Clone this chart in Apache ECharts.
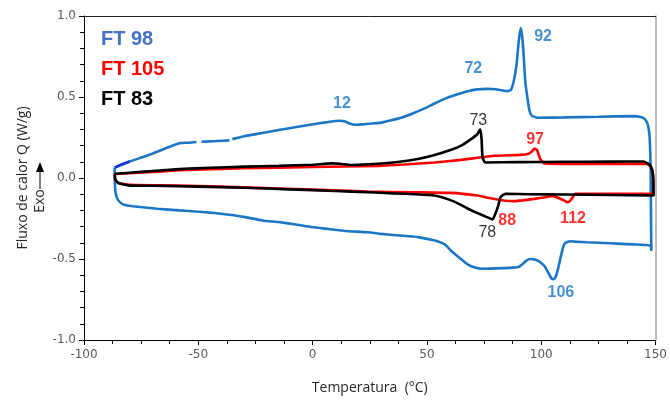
<!DOCTYPE html>
<html>
<head>
<meta charset="utf-8">
<script src="https://cdn.jsdelivr.net/npm/echarts@6/dist/echarts.min.js"></script>
<style>html,body{margin:0;padding:0;background:#fff}#c{width:670px;height:400px}</style>
</head>
<body>
<div id="c"></div>
<script>
// ---- Data (temperature °C, heat flow W/g) ----
// FT 98 loop (heating upper branch, then cooling lower branch); null = gap in trace
const ft98T = [-86.5,-84,-80,-72,-64,-58.3,-54,-50.8,null,-48.6,-42,-36.4,null,-35.1,-30,-22,-14.8,-7,-0.4,5,9.9,12,14.2,16.5,18.6,22,26,30,34,38.8,44,49,53.3,58,63,67.8,72,76.5,80,83,85.2,86.8,88,89.2,90.2,91,91.6,92.2,93,93.9,94.8,95.8,98.3,110,125,140.3,143.5,145.4,146.6,147.3,147.7,147.9,148.0,148.1,148.2,147.8,140,130,120,115,113,111.3,110,108.8,107.7,106.6,105.5,104.5,103.3,101.5,99.6,97.5,95.2,93.5,91.5,90,86,80,74,71,68,64.9,61,57.8,53,46,38,30,24,14.2,7,-0.3,-8,-15,-22,-30,-36.5,-43.8,-50,-58.3,-68,-78.6,-82.5,-84.3,-85.5,-86.2,-86.5,-86.6];
const ft98Q = [0.065,0.08,0.102,0.14,0.185,0.215,0.218,0.222,null,0.224,0.228,0.232,null,0.24,0.258,0.278,0.296,0.315,0.33,0.342,0.352,0.353,0.348,0.335,0.329,0.331,0.336,0.342,0.355,0.372,0.4,0.43,0.46,0.49,0.515,0.536,0.547,0.55,0.548,0.54,0.536,0.545,0.6,0.7,0.85,0.925,0.88,0.78,0.6,0.5,0.42,0.385,0.372,0.374,0.378,0.382,0.376,0.362,0.33,0.27,0.15,0.0,-0.2,-0.38,-0.45,-0.418,-0.41,-0.403,-0.397,-0.393,-0.39,-0.395,-0.41,-0.47,-0.54,-0.6,-0.625,-0.62,-0.59,-0.545,-0.52,-0.505,-0.5,-0.51,-0.535,-0.55,-0.555,-0.558,-0.56,-0.553,-0.535,-0.5,-0.455,-0.41,-0.385,-0.365,-0.355,-0.345,-0.335,-0.327,-0.315,-0.303,-0.285,-0.272,-0.262,-0.24,-0.227,-0.215,-0.208,-0.2,-0.19,-0.174,-0.165,-0.149,-0.125,-0.09,-0.03,0.065];
// darker start segment of FT 98
const ft98StartT = [-86.5,-84,-80];
const ft98StartQ = [0.065,0.08,0.102];

// FT 105 loop
const ft105T = [-86.5,-70,-58,-30,0,28.7,40,53.3,65,79.6,90.7,94.5,96,97,98.2,99.5,101.3,120,140,146.2,148,148.8,149.0,149.0,147.5,130,114.9,113.5,112.3,111.3,110,109.1,107,104.8,101,96.8,92,88.1,84,80.9,76,72.2,60.6,45,24.3,0,-30,-60,-80,-85,-86.3,-86.5];
const ft105Q = [0.025,0.037,0.048,0.06,0.068,0.075,0.083,0.096,0.112,0.137,0.143,0.15,0.165,0.182,0.172,0.12,0.09,0.087,0.087,0.086,0.07,0.03,-0.05,-0.098,-0.098,-0.098,-0.098,-0.125,-0.145,-0.149,-0.14,-0.133,-0.12,-0.112,-0.12,-0.129,-0.138,-0.143,-0.14,-0.133,-0.12,-0.108,-0.092,-0.088,-0.084,-0.072,-0.058,-0.046,-0.042,-0.03,-0.01,0.025];

// FT 83 loop
const ft83T = [-86.6,-86.3,-80,-70,-58.3,-45,-30,-14.8,0,8.4,12,17,22,28.7,38,46,53,60.6,65,69.3,72,73.3,73.9,74.3,75.4,90,110,130,144.6,147.2,148.5,149,149.1,149.1,147.5,130,110,95,84.5,82.8,82,81.2,80.1,78.7,76,72.2,68,64.9,60,53.3,45,35,24.3,10,-10,-30,-50,-70,-80,-85,-86.3,-86.6];
const ft83Q = [0.02,0.025,0.032,0.043,0.055,0.063,0.07,0.075,0.082,0.09,0.088,0.08,0.083,0.088,0.1,0.117,0.14,0.174,0.2,0.24,0.27,0.3,0.24,0.13,0.096,0.098,0.1,0.101,0.102,0.085,0.05,0.0,-0.06,-0.108,-0.108,-0.105,-0.102,-0.1,-0.098,-0.11,-0.125,-0.17,-0.215,-0.256,-0.24,-0.217,-0.19,-0.166,-0.135,-0.108,-0.1,-0.095,-0.088,-0.08,-0.07,-0.06,-0.053,-0.048,-0.047,-0.031,-0.01,0.02];

// Peak annotations (label anchor in data coords)
const peakText = ['12','72','92','106','73','78','97','88','112'];
const peakT    = [12.8,70.3,100.8,108.6,72.5,76.4,97.3,85.1,113.9];
const peakQ    = [0.46,0.675,0.871,-0.706,0.356,-0.337,0.239,-0.264,-0.252];
const peakSeries = ['FT 98','FT 98','FT 98','FT 98','FT 83','FT 83','FT 105','FT 105','FT 105'];

const seriesNames = ['FT 98','FT 105','FT 83'];
const xTicks = [-100,-50,0,50,100,150];
const yTicks = [-1.0,-0.5,0.0,0.5,1.0];

// ---- Chart ----
const colors = {'FT 98':'#1C76C6','FT 105':'#FF0000','FT 83':'#000000'};
const labelColors = {'FT 98':'#1C76C6','FT 105':'#FF0000','FT 83':'#000000'};
const legendColors = {'FT 98':'#4472C4','FT 105':'#FF0000','FT 83':'#000000'};

function pairs(T,Q){return T.map((t,i)=> (t===null||Q[i]===null) ? ['-','-'] : [t,Q[i]]);}

const lineSeries = [
  {name:'FT 98', T:ft98T, Q:ft98Q},
  {name:'FT 105', T:ft105T, Q:ft105Q},
  {name:'FT 83', T:ft83T, Q:ft83Q}
].map(s=>({
  name:s.name, type:'line', data:pairs(s.T,s.Q), showSymbol:false, symbol:'none',
  smooth:0.15, connectNulls:false,
  lineStyle:{color:colors[s.name], width:2.6}, itemStyle:{color:colors[s.name]},
  z:2, animation:false
}));
lineSeries.push({name:'FT 98 start', type:'line', data:pairs(ft98StartT,ft98StartQ), showSymbol:false, symbol:'none',
  lineStyle:{color:'#1436E6', width:2.6}, z:3, animation:false});

const labelSeries = seriesNames.map(n=>({
  name:n+' labels', type:'scatter', symbolSize:0, z:5, animation:false,
  data: peakText.map((t,i)=>({value:[peakT[i],peakQ[i]], name:t, sn:peakSeries[i]})).filter(d=>d.sn===n),
  label:{show:true, position:'inside', formatter:p=>p.name, color:labelColors[n],
    fontFamily:'Liberation Sans, Arial, sans-serif', fontSize:16,
    fontWeight: n==='FT 83' ? 'normal' : 'bold'}
}));

const legendTop = [40,70,100];
const chart = echarts.init(document.getElementById('c'), null, {renderer:'canvas'});
chart.setOption({
  animation:false,
  grid:{left:84, right:12, top:16, bottom:58, containLabel:false},
  xAxis:[{
    type:'value', min:-100, max:150, interval:50, position:'bottom',
    axisLine:{show:true, onZero:false, lineStyle:{color:'#000', width:1}},
    axisTick:{show:true, inside:false, length:5, lineStyle:{color:'#000'}},
    minorTick:{show:true, splitNumber:4, length:4, lineStyle:{color:'#000'}},
    splitLine:{show:false},
    axisLabel:{color:'#595959', fontFamily:'DejaVu Sans', fontSize:12, margin:9,
      formatter:v=> xTicks.includes(v) ? String(v) : ''},
    name:'Temperatura  (°C)', nameLocation:'middle', nameGap:41,
    nameTextStyle:{color:'#262626', fontFamily:'Open Sans', fontSize:14}
  },{
    type:'value', min:-100, max:150, position:'top',
    axisLine:{show:true, onZero:false, lineStyle:{color:'#222', width:1}},
    axisTick:{show:false}, axisLabel:{show:false}, splitLine:{show:false}
  }],
  yAxis:[{
    type:'value', min:-1, max:1, interval:0.5, position:'left',
    axisLine:{show:true, onZero:false, lineStyle:{color:'#000', width:1}},
    axisTick:{show:true, inside:false, length:5, lineStyle:{color:'#000'}},
    minorTick:{show:true, splitNumber:5, length:4, lineStyle:{color:'#000'}},
    splitLine:{show:false},
    axisLabel:{color:'#595959', fontFamily:'DejaVu Sans', fontSize:12, margin:8,
      formatter:v=> yTicks.some(t=>Math.abs(t-v)<1e-9) ? v.toFixed(1) : ''},
    name:'Fluxo de calor Q (W/g)', nameLocation:'middle', nameGap:54,
    nameTextStyle:{color:'#262626', fontFamily:'Open Sans', fontSize:14}
  },{
    type:'value', min:-1, max:1, position:'right',
    axisLine:{show:true, onZero:false, lineStyle:{color:'#A6A6A6', width:1.5}},
    axisTick:{show:false}, axisLabel:{show:false}, splitLine:{show:false}
  }],
  graphic:[
    ...seriesNames.map((n,i)=>({type:'text', left:101, top:legendTop[i]-11, z:10,
      style:{text:n, fill:legendColors[n], font:'bold 20px "Liberation Sans", Arial, sans-serif'}})),
    {type:'text', x:40, y:201, rotation:Math.PI/2, z:10,
      style:{text:'Exo', fill:'#262626', font:'14px "Open Sans"', align:'center', verticalAlign:'middle'}},
    {type:'line', z:10, shape:{x1:40, y1:189, x2:40, y2:170}, style:{stroke:'#000', lineWidth:1}},
    {type:'polygon', z:10, shape:{points:[[36,172],[44,172],[40,162]]}, style:{fill:'#000'}}
  ],
  series:[...lineSeries, ...labelSeries]
});
</script>
</body>
</html>
